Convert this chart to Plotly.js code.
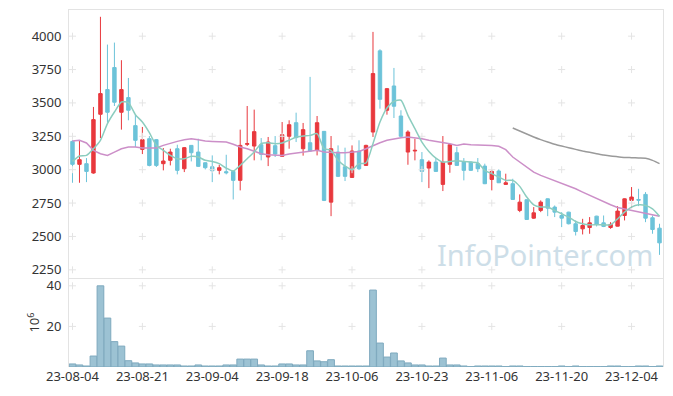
<!DOCTYPE html>
<html>
<head>
<meta charset="utf-8">
<script src="https://cdn.plot.ly/plotly-3.0.1.min.js"></script>
<style>html,body{margin:0;padding:0;background:#fff;}#chart{width:673px;height:396px;}</style>
</head>
<body>
<div id="chart"></div>
<script>
const dates = ["23-08-04","23-08-07","23-08-08","23-08-09","23-08-10","23-08-11","23-08-14","23-08-16","23-08-17","23-08-18",
"23-08-21","23-08-22","23-08-23","23-08-24","23-08-25","23-08-28","23-08-29","23-08-30","23-08-31","23-09-01",
"23-09-04","23-09-05","23-09-06","23-09-07","23-09-08","23-09-11","23-09-12","23-09-13","23-09-14","23-09-15",
"23-09-18","23-09-19","23-09-20","23-09-21","23-09-22","23-09-25","23-09-26","23-09-27","23-10-04","23-10-05",
"23-10-06","23-10-10","23-10-11","23-10-12","23-10-13","23-10-16","23-10-17","23-10-18","23-10-19","23-10-20",
"23-10-23","23-10-24","23-10-25","23-10-26","23-10-27","23-10-30","23-10-31","23-11-01","23-11-02","23-11-03",
"23-11-06","23-11-07","23-11-08","23-11-09","23-11-10","23-11-13","23-11-14","23-11-15","23-11-16","23-11-17",
"23-11-20","23-11-21","23-11-22","23-11-23","23-11-24","23-11-27","23-11-28","23-11-29","23-11-30","23-12-01",
"23-12-04","23-12-05","23-12-06","23-12-07","23-12-08"];

const openP = [3212,3040,3045,2975,3415,3600,3765,3430,3540,3330,3152,3232,3225,3045,3070,3157,3007,3182,3132,3052,
3022,2995,2985,2987,2920,3190,3177,3187,3095,3180,3100,3250,3352,3157,3202,3145,3287,2757,3132,3022,
2942,3140,3032,3282,3890,3445,3627,3402,3132,3140,3075,3012,3057,2890,3040,3127,3057,3057,3045,3027,
2927,2990,2890,2895,2695,2775,2637,2695,2782,2720,2657,2682,2595,2557,2567,2652,2602,2567,2577,2657,
2770,2777,2815,2640,2562];

const highP = [3220,3220,3087,3470,4145,3937,3952,3820,3687,3412,3320,3252,3230,3162,3157,3187,3170,3185,3232,3055,
3107,3037,3112,2990,3300,3477,3450,3237,3245,3252,3357,3370,3427,3350,3695,3402,3290,3252,3182,3165,
3182,3220,3187,4032,3902,3612,3762,3445,3295,3232,3132,3070,3087,3252,3190,3170,3087,3060,3087,3045,
3000,3002,2970,2932,2815,2777,2720,2770,2785,2732,2682,2685,2620,2632,2645,2655,2657,2607,2727,2785,
2870,2857,2832,2657,2595];

const lowP = [2902,2902,2907,2970,3237,3352,3477,3300,3370,3170,3117,3025,3020,2995,3032,2965,2982,3062,3020,3002,
2907,2965,2965,2777,2845,3177,3070,3070,3027,3095,3095,3157,3207,3105,3135,3107,2765,2652,2945,2915,
2940,2997,3030,3245,3457,3412,3387,3245,3037,3070,2907,2862,2985,2840,2977,3030,2920,2990,2982,2892,
2845,2900,2887,2775,2682,2625,2632,2682,2652,2645,2570,2590,2507,2515,2520,2575,2570,2557,2575,2620,
2712,2727,2607,2520,2362];

const closeP = [3040,3075,2987,3375,3570,3430,3505,3600,3445,3220,3225,3032,3032,3065,3132,2995,3165,3127,3025,3015,
2992,3015,2977,2920,3182,3195,3285,3115,3207,3117,3262,3337,3240,3300,3140,3352,2770,3157,2950,2950,
3140,3007,3182,3720,3527,3607,3475,3250,3282,3145,2987,3057,2987,3057,3187,3032,2995,2995,3007,2895,
2987,2902,2902,2777,2757,2627,2677,2757,2712,2682,2637,2595,2537,2582,2602,2590,2575,2590,2690,2782,
2795,2772,2637,2552,2452];

const maShort = [3062,3102,3107,3157,3220,3345,3432,3507,3502,3412,3357,3277,3182,3145,3107,3082,3082,3100,3095,3070,
3062,3045,3012,2990,3032,3082,3132,3195,3202,3195,3200,3220,3245,3252,3257,3270,3157,3145,3070,3027,
3000,3045,3050,3195,3357,3462,3512,3520,3407,3307,3207,3137,3087,3057,3062,3067,3062,3057,3052,2995,
2970,2945,2920,2920,2875,2795,2737,2720,2720,2695,2670,2645,2612,2595,2587,2587,2587,2587,2632,2682,
2720,2737,2732,2707,2652];

const maMid = [3215,3220,3200,3145,3120,3107,3132,3157,3170,3170,3162,3162,3162,3182,3200,3212,3225,3232,3225,3215,
3212,3207,3207,3190,3170,3157,3140,3120,3112,3107,3107,3117,3125,3132,3137,3145,3132,3127,3127,3127,
3132,3137,3157,3182,3202,3220,3232,3240,3245,3240,3232,3220,3212,3202,3195,3182,3192,3187,3187,3187,
3182,3175,3150,3095,3057,3020,2982,2957,2937,2917,2900,2880,2857,2832,2807,2782,2757,2737,2717,2707,
2695,2687,2677,2665,2652];

const maLong = [null,null,null,null,null,null,null,null,null,null,null,null,null,null,null,null,null,null,null,null,
null,null,null,null,null,null,null,null,null,null,null,null,null,null,null,null,null,null,null,null,
null,null,null,null,null,null,null,null,null,null,null,null,null,null,null,null,null,null,null,null,
null,null,null,3312,3290,3267,3245,3225,3207,3190,3177,3165,3152,3140,3130,3120,3110,3102,3097,3092,
3090,3087,3085,3070,3045];

const volume = [1.5,1.0,0.5,5.4,40,24.1,12.5,10.3,3.1,2.0,1.5,1.5,1.0,1.0,1.0,1.0,0.5,0.5,1.0,0.5,
0.5,0.5,1.0,1.0,3.9,3.9,3.9,1.0,0.5,0.5,1.5,1.5,1.0,1.0,8.0,3.0,2.6,3.6,0.5,0.5,
0.5,0.5,0.5,37.9,11.8,4.9,6.9,3.0,2.0,1.0,1.0,0.5,0.5,4.4,1.0,1.0,0.5,0.2,0.5,0.5,
0.5,0.5,0.2,0.5,0.5,0.2,0.2,0.2,0.2,0.2,0.5,0.2,0.5,0.2,0.2,0.2,0.2,0.5,0.5,0.2,
0.2,0.5,0.5,0.2,0.5];

const xTickLabels = ["23-08-04","23-08-21","23-09-04","23-09-18","23-10-06","23-10-23","23-11-06","23-11-20","23-12-04"];
const priceTicks = [2250,2500,2750,3000,3250,3500,3750,4000];
const volTicks = [20,40];

const gridColor = '#e4e4e4';
const frameColor = '#e3e3e3';
const font = 'Noto Sans, DejaVu Sans, sans-serif';

// grid crosses
const gx = [], gy = [], vx = [], vy = [];
xTickLabels.forEach(d => {
  priceTicks.forEach(v => { gx.push(d); gy.push(v); });
  volTicks.forEach(v => { vx.push(d); vy.push(v); });
});

const traces = [
  {type:'scatter', mode:'markers', x:gx, y:gy, xaxis:'x', yaxis:'y', hoverinfo:'skip', showlegend:false,
   marker:{symbol:'cross-thin', size:5, line:{color:gridColor, width:1}, color:gridColor}},
  {type:'scatter', mode:'markers', x:vx, y:vy, xaxis:'x2', yaxis:'y2', hoverinfo:'skip', showlegend:false,
   marker:{symbol:'cross-thin', size:5, line:{color:gridColor, width:1}, color:gridColor}},
  {type:'scatter', mode:'lines', x:dates, y:maLong, xaxis:'x', yaxis:'y', hoverinfo:'skip', showlegend:false,
   line:{color:'#9a9a9a', width:1.5, shape:'spline', smoothing:0.5}},
  {type:'scatter', mode:'lines', x:dates, y:maMid, xaxis:'x', yaxis:'y', hoverinfo:'skip', showlegend:false,
   line:{color:'#cc8fc8', width:1.5}},
  {type:'scatter', mode:'lines', x:dates, y:maShort, xaxis:'x', yaxis:'y', hoverinfo:'skip', showlegend:false,
   line:{color:'#8ccdbf', width:1.5, shape:'spline', smoothing:0.6}},
  {type:'candlestick', x:dates, open:openP, high:highP, low:lowP, close:closeP, xaxis:'x', yaxis:'y',
   hoverinfo:'skip', showlegend:false, whiskerwidth:0,
   increasing:{line:{color:'#e8383d', width:1}, fillcolor:'#e8383d'},
   decreasing:{line:{color:'#6cc3d9', width:1}, fillcolor:'#6cc3d9'}},
  {type:'bar', x:dates, y:volume, xaxis:'x2', yaxis:'y2', hoverinfo:'skip', showlegend:false,
   marker:{color:'#9cc2d3', line:{color:'#7ea9be', width:1}}}
];

const layout = {
  width:673, height:396,
  margin:{l:69, r:10, t:10, b:29},
  paper_bgcolor:'#ffffff', plot_bgcolor:'#ffffff',
  font:{family:font, size:13, color:'#333333'},
  showlegend:false,
  bargap:0.04,
  xaxis:{type:'category', categoryorder:'array', categoryarray:dates, anchor:'y', domain:[0,1],
    range:[-0.5, 84.5], showticklabels:false, showgrid:false, zeroline:false,
    showline:true, mirror:true, linecolor:frameColor, linewidth:1,
    rangeslider:{visible:false}, fixedrange:true},
  yaxis:{domain:[0.249,1], range:[2188,4196], tickvals:priceTicks, showgrid:false, zeroline:false,
    showline:true, mirror:true, linecolor:frameColor, linewidth:1, ticks:'', ticklabelstandoff:4,
    tickfont:{family:font, size:13, color:'#333333'}, fixedrange:true},
  xaxis2:{type:'category', categoryorder:'array', categoryarray:dates, anchor:'y2', domain:[0,1],
    range:[-0.5, 84.5], tickvals:xTickLabels, ticktext:xTickLabels, showgrid:false, zeroline:false,
    showline:false, ticks:'', tickangle:0, tickfont:{family:font, size:13, color:'#333333'}, fixedrange:true},
  yaxis2:{domain:[0,0.249], range:[0,43.8], tickvals:volTicks, showgrid:false, zeroline:false,
    showline:true, mirror:true, linecolor:frameColor, linewidth:1, ticks:'', ticklabelstandoff:4,
    tickfont:{family:font, size:13, color:'#333333'},
    title:{text:'10<sup>6</sup>', font:{family:font, size:13, color:'#333333'}, standoff:3}, fixedrange:true},
  annotations:[{xref:'paper', yref:'paper', x:0.9865, y:0.3165, xanchor:'right', yanchor:'middle',
    text:'InfoPointer.com', showarrow:false, font:{family:font, size:29, color:'#cddee8'}}]
};

Plotly.newPlot('chart', traces, layout, {displayModeBar:false, staticPlot:true});
</script>
</body>
</html>
